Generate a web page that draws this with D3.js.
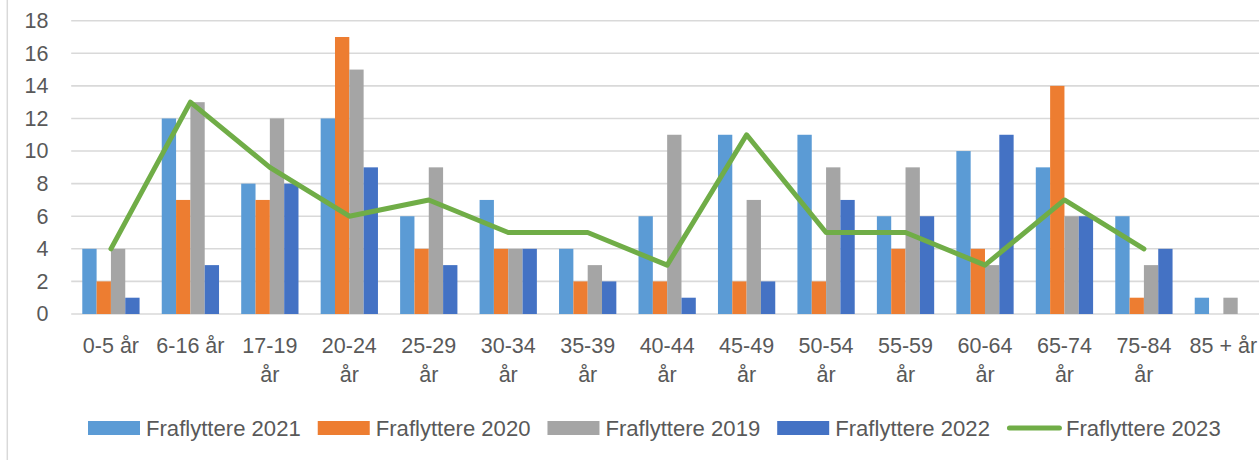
<!DOCTYPE html>
<html>
<head>
<meta charset="utf-8">
<script src="https://cdn.jsdelivr.net/npm/d3@7"></script>
<style>
  html, body { margin: 0; padding: 0; background: #fff; }
  svg { display: block; }
  text { font-family: "Liberation Sans", Arial, sans-serif; fill: #595959; }
</style>
</head>
<body>
<svg id="chart" width="1259" height="460"></svg>
<script>
const categories = ["0-5 år", "6-16 år", "17-19 år", "20-24 år", "25-29 år", "30-34 år", "35-39 år", "40-44 år", "45-49 år", "50-54 år", "55-59 år", "60-64 år", "65-74 år", "75-84 år", "85 + år"];
const barSeries = ["Fraflyttere 2021", "Fraflyttere 2020", "Fraflyttere 2019", "Fraflyttere 2022"];
const values2021 = [4, 12, 8, 12, 6, 7, 4, 6, 11, 11, 6, 10, 9, 6, 1];
const values2020 = [2, 7, 7, 17, 4, 4, 2, 2, 2, 2, 4, 4, 14, 1, 0];
const values2019 = [4, 13, 12, 15, 9, 4, 3, 11, 7, 9, 9, 3, 6, 3, 1];
const values2022 = [1, 3, 8, 9, 3, 4, 2, 1, 2, 7, 6, 11, 6, 4, 0];
const lineSeries = "Fraflyttere 2023";
const values2023 = [4, 13, 9, 6, 7, 5, 5, 3, 11, 5, 5, 3, 7, 4, null];
const yTicks = [0, 2, 4, 6, 8, 10, 12, 14, 16, 18];
const colors = { "Fraflyttere 2021": "#5B9BD5", "Fraflyttere 2020": "#ED7D31", "Fraflyttere 2019": "#A5A5A5", "Fraflyttere 2022": "#4472C4", "Fraflyttere 2023": "#70AD47" };

(function () {
const barValues = [values2021, values2020, values2019, values2022];
const svg = d3.select("#chart");
const fontSize = 21.5;
const legendFontSize = 22.1;

const plotLeft = 71.2, plotRight = 71.2 + 15 * 79.46;
const plotTop = 20.7, plotBottom = 314;

const x0 = d3.scaleBand().domain(categories).range([plotLeft, plotRight]).paddingInner(0.279).paddingOuter(0.1395);
const x1 = d3.scaleBand().domain(barSeries).range([0, x0.bandwidth()]).padding(0);
const y = d3.scaleLinear().domain([0, 18]).range([plotBottom, plotTop]);

// chart border (left)
svg.append("line").attr("x1", 7.3).attr("x2", 7.3).attr("y1", 0).attr("y2", 460)
  .attr("stroke", "#D9D9D9").attr("stroke-width", 1.5);

// gridlines
svg.append("g").selectAll("line").data(yTicks).join("line")
  .attr("x1", plotLeft).attr("x2", 1259)
  .attr("y1", d => y(d)).attr("y2", d => y(d))
  .attr("stroke", "#D9D9D9").attr("stroke-width", 1.6);

// y-axis labels
const yAxis = d3.axisLeft(y).tickValues(yTicks).tickSize(0).tickPadding(0);
const gy = svg.append("g").attr("transform", "translate(48.5,0)").call(yAxis);
gy.select(".domain").remove();
gy.selectAll("text").attr("font-size", fontSize).attr("font-family", "Liberation Sans, Arial, sans-serif").attr("fill", "#595959");

// bars
const groups = svg.append("g").selectAll("g").data(categories).join("g")
  .attr("transform", d => `translate(${x0(d)},0)`);
groups.selectAll("rect")
  .data((c, i) => barSeries.map((s, k) => ({ s, v: barValues[k][i] })))
  .join("rect")
  .attr("x", d => x1(d.s))
  .attr("width", x1.bandwidth())
  .attr("y", d => y(d.v))
  .attr("height", d => y(0) - y(d.v))
  .attr("fill", d => colors[d.s]);

// line
const line = d3.line()
  .defined(d => d.v !== null)
  .x(d => x0(d.c) + x0.bandwidth() / 2)
  .y(d => y(d.v));
svg.append("path")
  .datum(categories.map((c, i) => ({ c, v: values2023[i] })))
  .attr("d", line)
  .attr("fill", "none")
  .attr("stroke", colors[lineSeries])
  .attr("stroke-width", 5)
  .attr("stroke-linejoin", "round")
  .attr("stroke-linecap", "round");

// x-axis labels with wrapping
const xAxis = d3.axisBottom(x0).tickSize(0).tickPadding(0);
const gx = svg.append("g").call(xAxis);
gx.select(".domain").remove();
gx.selectAll(".tick text").each(function (d) {
  const t = d3.select(this);
  t.text(null).attr("y", 0).attr("dy", null)
    .attr("font-size", fontSize).attr("font-family", "Liberation Sans, Arial, sans-serif").attr("fill", "#595959");
  const words = d.split(" ");
  const maxW = x0.step() - 4;
  const tmp = t.append("tspan").attr("x", 0).attr("y", 353).text(d);
  if (tmp.node().getComputedTextLength() <= maxW) return;
  tmp.remove();
  let lines = [], cur = [];
  words.forEach(w => {
    const test = cur.concat([w]).join(" ");
    const probe = t.append("tspan").text(test);
    const wd = probe.node().getComputedTextLength();
    probe.remove();
    if (wd > maxW && cur.length) { lines.push(cur.join(" ")); cur = [w]; }
    else cur.push(w);
  });
  lines.push(cur.join(" "));
  lines.forEach((ln, i) => {
    t.append("tspan").attr("x", 0).attr("y", 353 + i * 28.5).text(ln);
  });
});

// legend
const legendItems = barSeries.concat([lineSeries]);
const lg = svg.append("g");
let lx = 88;
legendItems.forEach((s) => {
  const isLine = s === lineSeries;
  const sw = isLine ? 55 : 52;
  if (isLine) {
    lg.append("line").attr("x1", lx + 2.5).attr("x2", lx + sw - 2.5).attr("y1", 428).attr("y2", 428)
      .attr("stroke", colors[s]).attr("stroke-width", 5).attr("stroke-linecap", "round");
  } else {
    lg.append("rect").attr("x", lx).attr("y", 421).attr("width", sw).attr("height", 14).attr("fill", colors[s]);
  }
  const tx = lg.append("text").attr("x", lx + sw + (isLine ? 4 : 6)).attr("y", 435.5)
    .attr("font-size", legendFontSize).text(s);
  const w = tx.node().getComputedTextLength();
  lx += sw + 6 + w + 17;
});
})();
</script>
</body>
</html>
